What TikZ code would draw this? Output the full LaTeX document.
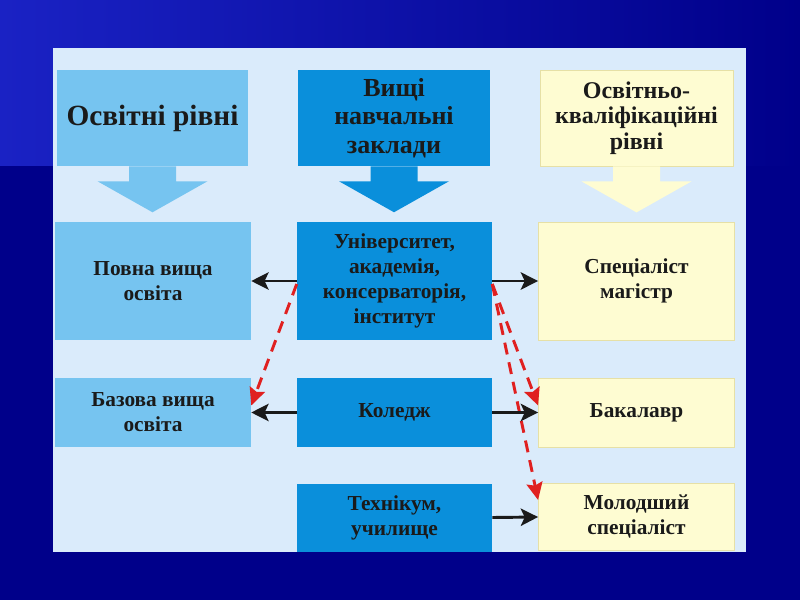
\documentclass[tikz,border=0pt]{standalone}
\usepackage{fontspec}
\setmainfont{Liberation Serif}
\usetikzlibrary{arrows.meta,calc}
\definecolor{Navy}{HTML}{00008A}
\definecolor{Royal}{HTML}{1A22C4}
\definecolor{Panel}{HTML}{DAEBFB}
\definecolor{Sky}{HTML}{76C4F0}
\definecolor{Ocean}{HTML}{0A8FDB}
\definecolor{Cream}{HTML}{FEFCD2}
\definecolor{CreamLine}{HTML}{E6E0A6}
\definecolor{Ink}{HTML}{1A1A1A}
\definecolor{Alert}{HTML}{E02020}
\tikzset{
  box/.style={
    inner sep=2pt, align=center, text=Ink,
    font=\bfseries\fontsize{16}{18.75}\selectfont
  },
  levelbox/.style={box, fill=Sky, minimum width=147pt},
  schoolbox/.style={box, fill=Ocean, minimum width=146.25pt},
  degreebox/.style={box, fill=Cream, draw=CreamLine, line width=0.6pt, minimum width=147pt},
  headbox/.style={minimum height=72pt, font=\bfseries\fontsize{19.5}{21.5}\selectfont},
  link/.style={-{Stealth[length=13pt,width=13pt,inset=3pt]}, line width=2.2pt, draw=Ink},
  lead/.style={-{Stealth[length=13pt,width=12pt,inset=2pt]}, line width=2.2pt, draw=Alert,
    dash pattern=on 9pt off 6pt}
}
% block arrow below a header
\newcommand{\downshape}[2]{%
  \fill[#2] ($(#1.south)+(-23.5,0)$) -- ++(0,15) -- ++(-31.5,0) -- ++(55,31)
    -- ++(55,-31) -- ++(-31.5,0) -- ++(0,-15) -- cycle;}

\begin{document}
\begin{tikzpicture}[x=0.75pt,y=-0.75pt]
  \useasboundingbox (0,0) rectangle (800,600);
  \fill[Navy] (0,0) rectangle (800,600);
  \shade[left color=Royal,right color=Navy] (0,0) rectangle (800,165);
  \fill[Panel] (53,48) rectangle (746,552);

  % headers
  \node[levelbox, headbox, minimum width=143.25pt, font=\bfseries\fontsize{22}{22.5}\selectfont]
    (levels) at (152.5,118) {Освітні рівні};
  \node[schoolbox, headbox, minimum width=144pt] (schools) at (394,118) {Вищі\\навчальні\\заклади};
  \node[degreebox, headbox, minimum width=144.75pt, font=\bfseries\fontsize{18}{19}\selectfont]
    (quals) at (636.5,118) {Освітньо-\\кваліфікаційні\\рівні};
  \downshape{levels}{Sky}
  \downshape{schools}{Ocean}
  \downshape{quals}{Cream}

  % rows
  \node[levelbox, minimum height=88.5pt] (full) at (153,281) {Повна вища\\освіта};
  \node[schoolbox, minimum height=88.5pt] (uni) at (394.5,281)
    {Університет,\\академія,\\консерваторія,\\інститут};
  \node[degreebox, minimum height=88.5pt] (master) at (636.5,281) {Спеціаліст\\магістр};
  \node[levelbox, minimum height=51.75pt] (basic) at (153,412.5) {Базова вища\\освіта};
  \node[schoolbox, minimum height=51.75pt] (college) at (394.5,412.5) {Коледж};
  \node[degreebox, minimum height=51.75pt] (bachelor) at (636.5,412.5) {Бакалавр};
  \node[schoolbox, minimum height=51pt] (tech) at (394.5,517.5) {Технікум,\\училище};
  \node[degreebox, minimum height=50.25pt] (junior) at (636.5,517) {Молодший\\спеціаліст};

  \draw[lead] ($(uni.west)+(0,3)$) -- ($(basic.east)+(0,-7)$);
  \draw[lead] ($(uni.east)+(0,3)$) -- ($(bachelor.west)+(0,-7)$);
  \draw[lead] ($(uni.east)+(0,3)$) -- ($(junior.west)+(0,-17)$);
  \draw[link] (uni.west) -- (full.east);
  \draw[link] (uni.east) -- (master.west);
  \draw[link] (college.west) -- (basic.east);
  \draw[link] (college.east) -- (bachelor.west);
  \draw[link] (tech.east) -- (junior.west);
\end{tikzpicture}
\end{document}
